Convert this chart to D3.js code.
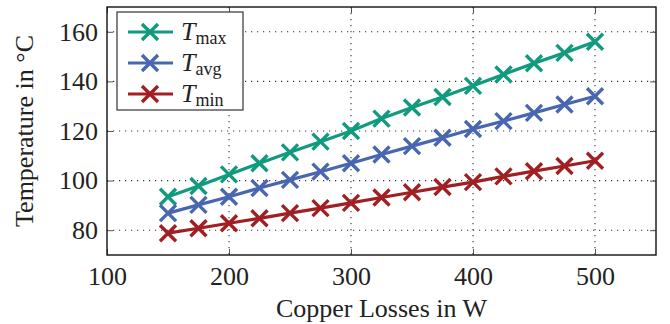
<!DOCTYPE html>
<html>
<head>
<meta charset="utf-8">
<script src="https://cdn.jsdelivr.net/npm/d3@7"></script>
<style>
  body { margin: 0; background: #fff; }
  text { font-family: "Liberation Serif", "Times New Roman", serif; fill: #222; }
</style>
</head>
<body>
<div id="chart"></div>
<script>
// Data
const losses = [150, 175, 200, 225, 250, 275, 300, 325, 350, 375, 400, 425, 450, 475, 500];
const tMax = [93.5, 97.8, 102.5, 107, 111.4, 115.7, 120, 125, 129.5, 133.7, 138.2, 142.8, 147.3, 151.5, 156];
const tAvg = [86.9, 90.2, 93.5, 97, 100.3, 103.6, 107, 110.5, 113.9, 117.3, 120.8, 124, 127.3, 130.7, 134];
const tMin = [78.8, 80.8, 82.8, 84.8, 86.9, 88.9, 91, 93.2, 95.3, 97.4, 99.4, 101.7, 103.8, 105.9, 108];
const seriesNames = ["max", "avg", "min"];
const xTicks = [100, 200, 300, 400, 500];
const yTicks = [80, 100, 120, 140, 160];

const colors = { max: "#109a7e", avg: "#4867b0", min: "#a11f22" };

const width = 670, height = 324;
const margin = { top: 7, right: 14, bottom: 69, left: 107 };
const w = width - margin.left - margin.right;
const h = height - margin.top - margin.bottom;

const xScale = d3.scaleLinear().domain([100, 550]).range([0, w]);
const yScale = d3.scaleLinear().domain([70, 170]).range([h, 0]);

const svg = d3.select("#chart").append("svg")
  .attr("width", width)
  .attr("height", height);

const g = svg.append("g")
  .attr("transform", `translate(${margin.left},${margin.top})`);

// Grid (dotted)
g.append("g").selectAll("line")
  .data(xTicks.slice(1))
  .enter().append("line")
  .attr("x1", d => xScale(d)).attr("x2", d => xScale(d))
  .attr("y1", 0).attr("y2", h)
  .attr("stroke", "#333").attr("stroke-width", 1.1)
  .attr("stroke-dasharray", "1.2,4.8");
g.append("g").selectAll("line")
  .data(yTicks)
  .enter().append("line")
  .attr("x1", 0).attr("x2", w)
  .attr("y1", d => yScale(d)).attr("y2", d => yScale(d))
  .attr("stroke", "#333").attr("stroke-width", 1.1)
  .attr("stroke-dasharray", "1.2,4.8");

// Axes with inward ticks
const tickLen = 6;
const xAxis = g.append("g").attr("transform", `translate(0,${h})`)
  .call(d3.axisBottom(xScale).tickValues(xTicks).tickSizeInner(-tickLen).tickSizeOuter(0).tickPadding(12));
const xTop = g.append("g")
  .call(d3.axisTop(xScale).tickValues(xTicks).tickSizeInner(-tickLen).tickSizeOuter(0).tickFormat(""));
const yAxis = g.append("g")
  .call(d3.axisLeft(yScale).tickValues(yTicks).tickSizeInner(-tickLen).tickSizeOuter(0).tickPadding(9));
const yRight = g.append("g").attr("transform", `translate(${w},0)`)
  .call(d3.axisRight(yScale).tickValues(yTicks).tickSizeInner(-tickLen).tickSizeOuter(0).tickFormat(""));

[xAxis, xTop, yAxis, yRight].forEach(a => {
  a.select(".domain").remove();
  a.selectAll(".tick line").attr("stroke", "#555").attr("stroke-width", 1);
  a.selectAll(".tick text")
    .attr("font-family", "Liberation Serif, serif")
    .attr("font-size", 26)
    .attr("fill", "#222");
});

// Frame
g.append("rect")
  .attr("x", 0).attr("y", 0).attr("width", w).attr("height", h)
  .attr("fill", "none").attr("stroke", "#111").attr("stroke-width", 1.4);

// Series
const series = [
  { key: "max", values: tMax },
  { key: "avg", values: tAvg },
  { key: "min", values: tMin }
];

const line = d3.line()
  .x((d, i) => xScale(losses[i]))
  .y(d => yScale(d));

const ms = 8; // half size of the cross marker
function cross(sel, color) {
  sel.append("path")
    .attr("d", `M${-ms},${-ms}L${ms},${ms}M${-ms},${ms}L${ms},${-ms}`)
    .attr("stroke", color)
    .attr("stroke-width", 3.4)
    .attr("fill", "none");
}

series.forEach(s => {
  g.append("path")
    .datum(s.values)
    .attr("d", line)
    .attr("fill", "none")
    .attr("stroke", colors[s.key])
    .attr("stroke-width", 3.2);
  g.append("g").selectAll("g")
    .data(s.values)
    .enter().append("g")
    .attr("transform", (d, i) => `translate(${xScale(losses[i])},${yScale(d)})`)
    .each(function() { cross(d3.select(this), colors[s.key]); });
});

// Legend
const legend = g.append("g").attr("transform", "translate(10,5)");
legend.append("rect")
  .attr("x", 0).attr("y", 0).attr("width", 126).attr("height", 98)
  .attr("fill", "#fff").attr("stroke", "#333").attr("stroke-width", 1.2);

seriesNames.forEach((name, i) => {
  const row = legend.append("g").attr("transform", `translate(0,${20 + i * 31})`);
  row.append("line")
    .attr("x1", 11).attr("x2", 56)
    .attr("y1", 0).attr("y2", 0)
    .attr("stroke", colors[name]).attr("stroke-width", 3.2);
  row.append("g").attr("transform", "translate(33,0)")
    .call(sel => cross(sel, colors[name]));
  const t = row.append("text")
    .attr("x", 64).attr("y", 8)
    .attr("font-size", 26);
  t.append("tspan").attr("font-style", "italic").text("T");
  t.append("tspan").attr("font-size", 18).attr("dy", 4).text(name);
});

// Axis titles
svg.append("text")
  .attr("x", margin.left + xScale(325))
  .attr("y", 317)
  .attr("text-anchor", "middle")
  .attr("font-size", 26)
  .text("Copper Losses in W");

svg.append("text")
  .attr("transform", `translate(33,${margin.top + h / 2}) rotate(-90)`)
  .attr("text-anchor", "middle")
  .attr("font-size", 26)
  .text("Temperature in °C");
</script>
</body>
</html>
